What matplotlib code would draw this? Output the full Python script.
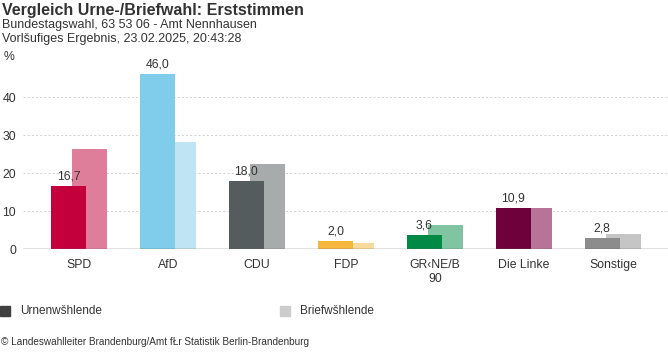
import matplotlib
matplotlib.use("Agg")
import matplotlib.pyplot as plt
from matplotlib.patches import Rectangle

plt.rcParams['font.family'] = ['Liberation Sans', 'DejaVu Sans']

categories = ["SPD", "AfD", "CDU", "FDP", "GR‹NE/B\n90", "Die Linke", "Sonstige"]
urne = [16.7, 46.0, 18.0, 2.0, 3.6, 10.9, 2.8]
brief = [26.3, 28.2, 22.4, 1.5, 6.3, 10.9, 4.0]
urne_labels = ["16,7", "46,0", "18,0", "2,0", "3,6", "10,9", "2,8"]
urne_colors = ["#C4003C", "#80CDEB", "#555C5E", "#F5B83D", "#008A46", "#6E003B", "#8C8C8C"]
brief_colors = ["#DF7E9B", "#BFE5F5", "#A8ABAB", "#F9DA9B", "#80C4A1", "#B77498", "#C5C5C5"]
yticks = [0, 10, 20, 30, 40]

W, H = 668, 352
fig = plt.figure(figsize=(W / 100, H / 100), dpi=100)

ax_left, ax_right = 23, 668
ax_top, ax_bottom = 59, 249
ax = fig.add_axes([ax_left / W, 1 - ax_bottom / H, (ax_right - ax_left) / W, (ax_bottom - ax_top) / H])

bw = 0.393
off = 0.118
x = list(range(len(categories)))
ax.bar([i + off for i in x], brief, width=bw, color=brief_colors, zorder=2)
ax.bar([i - off for i in x], urne, width=bw, color=urne_colors, zorder=3)
for i, v in enumerate(urne):
    ax.text(i - off, v + 0.9, urne_labels[i], ha="center", va="bottom", fontsize=8.8, color="#333333", zorder=5)

ax.set_xlim(-0.63, 6.62)
ax.set_ylim(0, 50)
for y in yticks[1:]:
    ax.axhline(y, color="#CCCCCC", lw=0.6, ls=(0, (2.5, 2.5)), zorder=1)
ax.axhline(0, color="#666666", lw=1.0, zorder=4)
for s in ax.spines.values():
    s.set_visible(False)
ax.set_yticks(yticks)
ax.set_yticklabels([str(t) for t in yticks])
ax.tick_params(axis="y", length=0, labelsize=8.8, labelcolor="#333333", pad=5)
ax.set_xticks(x)
ax.set_xticklabels(categories)
ax.tick_params(axis="x", length=0, labelsize=8.8, labelcolor="#333333", pad=7)

fig.text(4 / W, 1 - 57 / H, "%", fontsize=8.8, color="#333333", va="center", ha="left")

fig.text(2 / W, 1 - 10 / H, "Vergleich Urne-/Briefwahl: Erststimmen", fontsize=11.5, fontweight="bold", color="#333333", va="center", ha="left")
fig.text(2 / W, 1 - 25 / H, "Bundestagswahl, 63 53 06 - Amt Nennhausen", fontsize=9, color="#333333", va="center", ha="left")
fig.text(2 / W, 1 - 39 / H, "Vorlšufiges Ergebnis, 23.02.2025, 20:43:28", fontsize=9, color="#333333", va="center", ha="left")

fig.patches.append(Rectangle((0, 1 - 316 / H), 10 / W, 10 / H, transform=fig.transFigure, color="#404040"))
fig.text(20 / W, 1 - 311 / H, "Urnenwšhlende", fontsize=8.5, color="#333333", va="center", ha="left")
fig.patches.append(Rectangle((280 / W, 1 - 316 / H), 10 / W, 10 / H, transform=fig.transFigure, color="#CCCCCC"))
fig.text(300 / W, 1 - 311 / H, "Briefwšhlende", fontsize=8.5, color="#333333", va="center", ha="left")

fig.text(1 / W, 1 - 342 / H, "© Landeswahlleiter Brandenburg/Amt fŁr Statistik Berlin-Brandenburg", fontsize=7.2, color="#333333", va="center", ha="left")

fig.savefig("out.png", dpi=100)
